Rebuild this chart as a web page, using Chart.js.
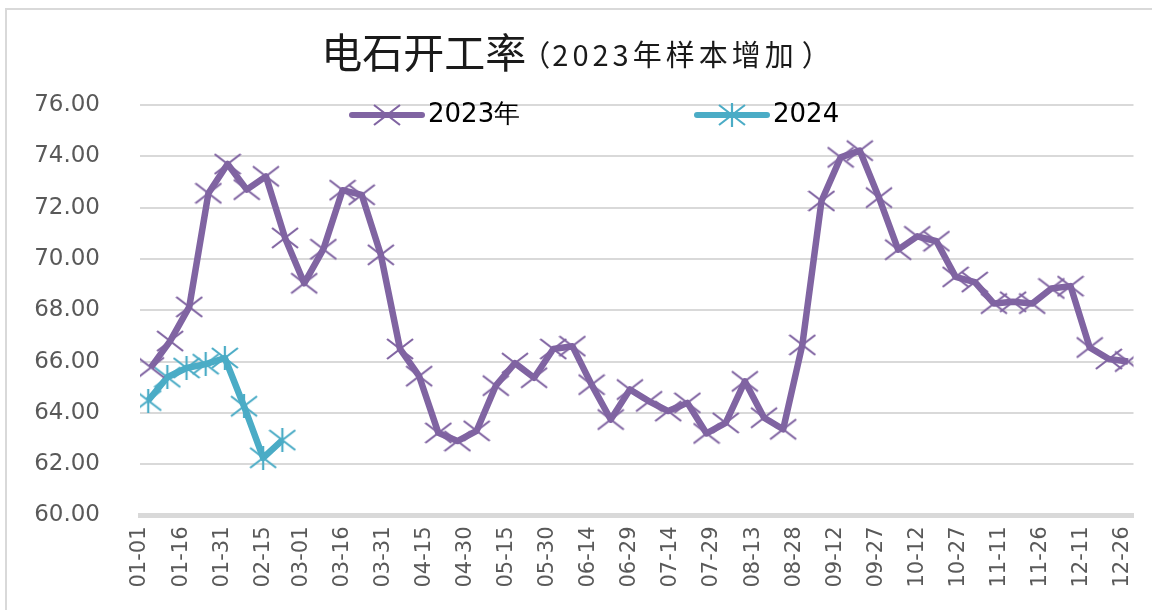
<!DOCTYPE html>
<html>
<head>
<meta charset="utf-8">
<script src="https://cdn.jsdelivr.net/npm/chart.js@4.4.1/dist/chart.umd.min.js"></script>
<style>
  html, body { margin: 0; padding: 0; background: #fff; }
  #wrap { position: relative; width: 1152px; height: 610px; }
</style>
</head>
<body>
<div id="wrap"><canvas id="chart"></canvas></div>
<script>
// Weekly dates (MM-DD) and operating rate values
const dates2023 = ['01-05', '01-12', '01-19', '01-26', '02-02', '02-09', '02-16', '02-23',
  '03-02', '03-09', '03-16', '03-23', '03-30', '04-06', '04-13', '04-20', '04-27',
  '05-04', '05-11', '05-18', '05-25', '06-01', '06-08', '06-15', '06-22', '06-29',
  '07-06', '07-13', '07-20', '07-27', '08-03', '08-10', '08-17', '08-24', '08-31',
  '09-07', '09-14', '09-21', '09-28', '10-05', '10-12', '10-19', '10-26',
  '11-02', '11-09', '11-16', '11-23', '11-30', '12-07', '12-14', '12-21', '12-28'];
const values2023 = [65.77, 66.8, 68.13, 72.56, 73.7, 72.7, 73.22, 70.82,
  69.05, 70.38, 72.68, 72.5, 70.16, 66.49, 65.43, 63.22, 62.9,
  63.3, 65.06, 65.94, 65.37, 66.49, 66.6, 65.1, 63.74, 64.91,
  64.45, 64.07, 64.39, 63.2, 63.61, 65.23, 63.81, 63.36, 66.65,
  72.26, 73.96, 74.22, 72.39, 70.36, 70.88, 70.69, 69.3,
  69.1, 68.26, 68.33, 68.26, 68.85, 68.94, 66.55, 66.1, 66.0];
const dates2024 = ['01-04', '01-11', '01-18', '01-25', '02-01', '02-08', '02-15', '02-22'];
const values2024 = [64.48, 65.39, 65.75, 65.9, 66.14, 64.26, 62.25, 62.94];

const tickLabels = ['01-01', '01-16', '01-31', '02-15', '03-01', '03-16', '03-31', '04-15',
  '04-30', '05-15', '05-30', '06-14', '06-29', '07-14', '07-29', '08-13', '08-28',
  '09-12', '09-27', '10-12', '10-27', '11-11', '11-26', '12-11', '12-26'];

const seriesNames = ['2023年', '2024'];
const seriesColors = ['#8064a2', '#4bacc6'];

function dayOfYear(md) {
  const [m, d] = md.split('-').map(Number);
  return (Date.UTC(2023, m - 1, d) - Date.UTC(2023, 0, 1)) / 86400000;
}

// x marker, optionally with a vertical bar (Excel "star")
function makeMarker(color, withBar) {
  const c = document.createElement('canvas');
  c.width = 28; c.height = 24;
  const g = c.getContext('2d');
  g.strokeStyle = color;
  g.lineWidth = 2.2;
  g.beginPath();
  g.moveTo(1, 2); g.lineTo(27, 22);
  g.moveTo(27, 2); g.lineTo(1, 22);
  if (withBar) { g.moveTo(14, 0); g.lineTo(14, 24); }
  g.stroke();
  return c;
}
const markers = [makeMarker(seriesColors[0], false), makeMarker(seriesColors[1], true)];

const tickDays = tickLabels.map(dayOfYear);
const labelByDay = {};
tickLabels.forEach((t, i) => { labelByDay[tickDays[i]] = t; });

const frame = {
  id: 'frame',
  beforeDraw(chart) {
    const { ctx, width, height } = chart;
    ctx.save();
    ctx.strokeStyle = '#d9d9d9';
    ctx.lineWidth = 2;
    ctx.beginPath();
    ctx.moveTo(6, height);
    ctx.lineTo(6, 9);
    ctx.lineTo(width, 9);
    ctx.stroke();
    ctx.restore();
  },
};

const title = {
  id: 'titleText',
  afterDraw(chart) {
    const { ctx } = chart;
    const main = '电石开工率';
    const parts = ['（', '2023年样本增加', '）'];
    const gaps = [-5, 2, 4];
    const mainFont = '41px "Noto Sans CJK SC"';
    const subFont = '29px "Noto Sans CJK SC"';
    ctx.save();
    ctx.fillStyle = '#1a1a1a';
    ctx.textBaseline = 'alphabetic';
    ctx.textAlign = 'left';
    ctx.font = mainFont;
    const w1 = ctx.measureText(main).width;
    ctx.font = subFont;
    const pw = parts.map((p, i) => {
      ctx.letterSpacing = i === 1 ? '4px' : '0px';
      return ctx.measureText(p).width;
    });
    const total = w1 + pw[0] + pw[1] + pw[2] + gaps[0] + gaps[1] + gaps[2];
    let x = 576 - total / 2;
    ctx.letterSpacing = '0px';
    ctx.font = mainFont;
    ctx.fillText(main, x, 68);
    x += w1;
    ctx.font = subFont;
    parts.forEach((p, i) => {
      x += gaps[i];
      ctx.letterSpacing = i === 1 ? '4px' : '0px';
      ctx.fillText(p, x, 66);
      x += pw[i];
    });
    ctx.restore();
  },
};

const legendBox = {
  id: 'legendBox',
  afterDraw(chart) {
    const { ctx } = chart;
    const starts = [352, 697];
    ctx.save();
    ctx.font = '26px "DejaVu Sans"';
    ctx.textBaseline = 'middle';
    ctx.textAlign = 'left';
    seriesNames.forEach((name, i) => {
      const x = starts[i];
      const y = 115;
      ctx.strokeStyle = seriesColors[i];
      ctx.lineWidth = 6;
      ctx.lineCap = 'round';
      ctx.beginPath();
      ctx.moveTo(x, y);
      ctx.lineTo(x + 70, y);
      ctx.stroke();
      const m = markers[i];
      ctx.drawImage(m, x + 35 - m.width / 2, y - m.height / 2);
      ctx.fillStyle = '#000';
      ctx.fillText(name, x + 76, y);
    });
    ctx.restore();
  },
};

new Chart(document.getElementById('chart'), {
  type: 'line',
  data: {
    datasets: [
      {
        label: seriesNames[0],
        data: dates2023.map((d, i) => ({ x: dayOfYear(d), y: values2023[i] })),
        borderColor: seriesColors[0],
        backgroundColor: seriesColors[0],
        borderWidth: 6.5,
        borderJoinStyle: 'round',
        pointStyle: markers[0],
        pointRadius: 12,
        tension: 0,
      },
      {
        label: seriesNames[1],
        data: dates2024.map((d, i) => ({ x: dayOfYear(d), y: values2024[i] })),
        borderColor: seriesColors[1],
        backgroundColor: seriesColors[1],
        borderWidth: 6.5,
        borderJoinStyle: 'round',
        pointStyle: markers[1],
        pointRadius: 12,
        tension: 0,
      },
    ],
  },
  options: {
    responsive: true,
    maintainAspectRatio: false,
    animation: false,
    layout: { padding: { top: 105, right: 17, left: 0, bottom: 0 } },
    plugins: {
      legend: { display: false },
      tooltip: { enabled: false },
    },
    scales: {
      x: {
        type: 'linear',
        min: 0,
        max: 363,
        afterBuildTicks(scale) {
          scale.ticks = tickDays.map((v) => ({ value: v }));
        },
        afterFit(scale) {
          scale.height = 94.5;
          scale.paddingLeft = 0;
          scale.paddingRight = 0;
        },
        grid: { display: false, drawTicks: false },
        border: { display: true, color: '#d9d9d9', width: 5 },
        ticks: {
          autoSkip: false,
          minRotation: 90,
          maxRotation: 90,
          padding: 11,
          color: '#595959',
          font: { family: 'DejaVu Sans', size: 21 },
          callback: (v) => labelByDay[v] || '',
        },
      },
      y: {
        min: 60,
        max: 76,
        afterFit(scale) { scale.width = 140; },
        grid: { color: '#d9d9d9', lineWidth: 2, drawTicks: false },
        border: { display: false },
        ticks: {
          stepSize: 2,
          padding: 40,
          color: '#595959',
          font: { family: 'DejaVu Sans', size: 23 },
          callback: (v) => v.toFixed(2),
        },
      },
    },
  },
  plugins: [frame, title, legendBox],
});
</script>
</body>
</html>
